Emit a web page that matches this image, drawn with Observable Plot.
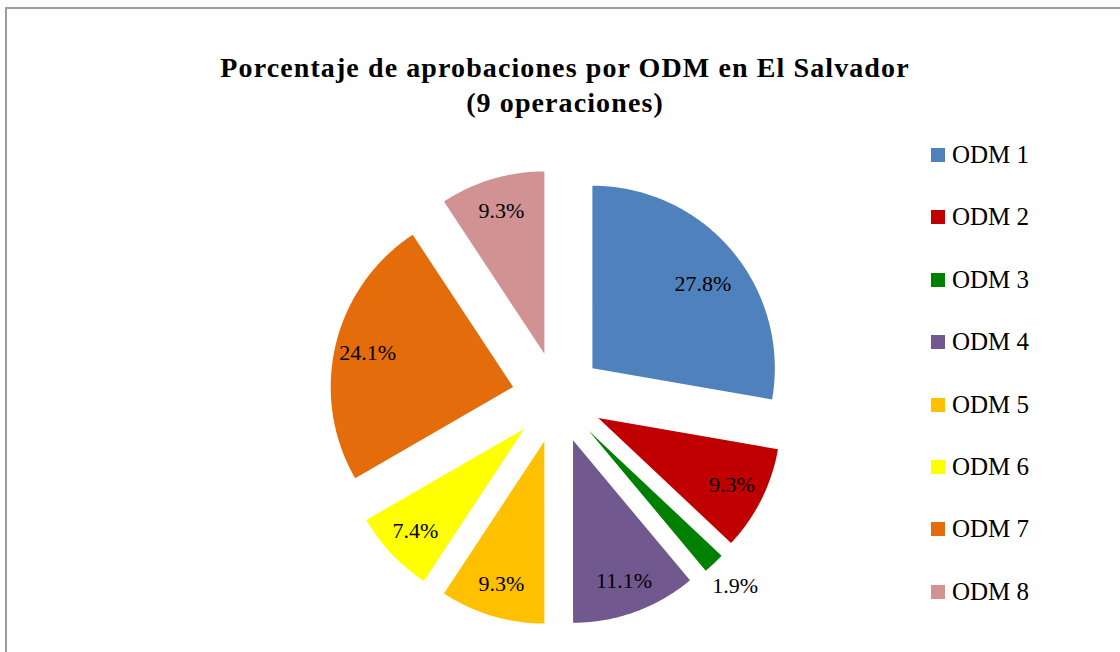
<!DOCTYPE html>
<html><head><meta charset="utf-8">
<script src="https://cdn.jsdelivr.net/npm/d3@7"></script>
<script src="https://cdn.jsdelivr.net/npm/@observablehq/plot@0.6"></script>
<style>
body{margin:0;background:#fff;}
#wrap{position:relative;width:1120px;height:652px;overflow:hidden;font-family:"Liberation Serif",serif;background:#fff;}
#frame{position:absolute;left:5px;top:7px;width:1300px;height:900px;border-left:2px solid #9c9c9c;border-top:2px solid #9c9c9c;}
#chart{position:absolute;left:0;top:0;}
#title{position:absolute;left:165px;width:800px;top:50px;text-align:center;font-weight:bold;font-size:28px;letter-spacing:1.1px;line-height:35px;color:#000;}
.item{position:absolute;left:931px;height:30px;display:flex;align-items:center;font-size:25px;color:#000;white-space:nowrap;}
.sw{width:14px;height:14px;margin-right:7px;flex:none;}
</style>
</head><body>
<div id="wrap">
  <div id="chart"></div>
  <div id="frame"></div>
  <div id="title"></div>
  <div id="legend"></div>
</div>
<script>
const titleLines = ["Porcentaje de aprobaciones por ODM en El Salvador", "(9 operaciones)"];
const categories = ["ODM 1","ODM 2","ODM 3","ODM 4","ODM 5","ODM 6","ODM 7","ODM 8"];
const values = [27.8, 9.3, 1.9, 11.1, 9.3, 7.4, 24.1, 9.3];
const labels = ["27.8%","9.3%","1.9%","11.1%","9.3%","7.4%","24.1%","9.3%"];
const colors = ["#4F81BD","#C00000","#008000","#71588F","#FFC000","#FFFF00","#E46C0A","#D09292"];

const explode = 0.25;
const total = d3.sum(values);
let acc = 0;
const slices = values.map((v, i) => {
  const a0 = acc / total * 2 * Math.PI;
  acc += v;
  const a1 = acc / total * 2 * Math.PI;
  return {i, a0, a1, mid: (a0 + a1) / 2, share: v / total};
});
const features = slices.map(s => {
  const cx = Math.sin(s.mid) * explode, cy = -Math.cos(s.mid) * explode;
  const ring = [[cx, cy]];
  const n = Math.max(2, Math.ceil((s.a1 - s.a0) / (Math.PI / 360)));
  for (let k = 0; k <= n; k++) {
    const t = s.a0 + (s.a1 - s.a0) * k / n;
    ring.push([cx + Math.sin(t), cy - Math.cos(t)]);
  }
  ring.push([cx, cy]);
  return {type: "Feature", properties: {cat: categories[s.i]}, geometry: {type: "Polygon", coordinates: [ring]}};
});
const labelData = slices.map(s => {
  const cx = Math.sin(s.mid) * explode, cy = -Math.cos(s.mid) * explode;
  const r = s.share < 0.03 ? 1.17 : (s.share > 0.25 ? 0.76 : 0.82);
  const a = s.share > 0.25 ? s.mid + 0.05 : s.mid;
  return {x: cx + Math.sin(a) * r, y: cy - Math.cos(a) * r, label: labels[s.i]};
});
const R = 1 + explode;
const domain = {type: "Polygon", coordinates: [[[-R,-R],[R,-R],[R,R],[-R,R],[-R,-R]]]};

const chart = Plot.plot({
  width: 1120, height: 652,
  marginLeft: 329, marginRight: 335, marginTop: 169, marginBottom: 27,
  projection: {type: "identity", domain},
  color: {domain: categories, range: colors},
  style: {background: "transparent"},
  marks: [
    Plot.geo(features, {fill: d => d.properties.cat, stroke: null}),
    Plot.text(labelData, {x: "x", y: "y", text: "label", fontSize: 22, fontFamily: "Liberation Serif", fill: "#000"})
  ]
});
document.getElementById("chart").appendChild(chart);

document.getElementById("title").innerHTML = titleLines.map(t => `<div>${t}</div>`).join("");
const legend = document.getElementById("legend");
categories.forEach((c, i) => {
  const el = document.createElement("div");
  el.className = "item";
  el.style.top = (155 + i * 62.4 - 15) + "px";
  el.innerHTML = `<span class="sw" style="background:${colors[i]}"></span><span>${c}</span>`;
  legend.appendChild(el);
});
</script>
</body></html>
